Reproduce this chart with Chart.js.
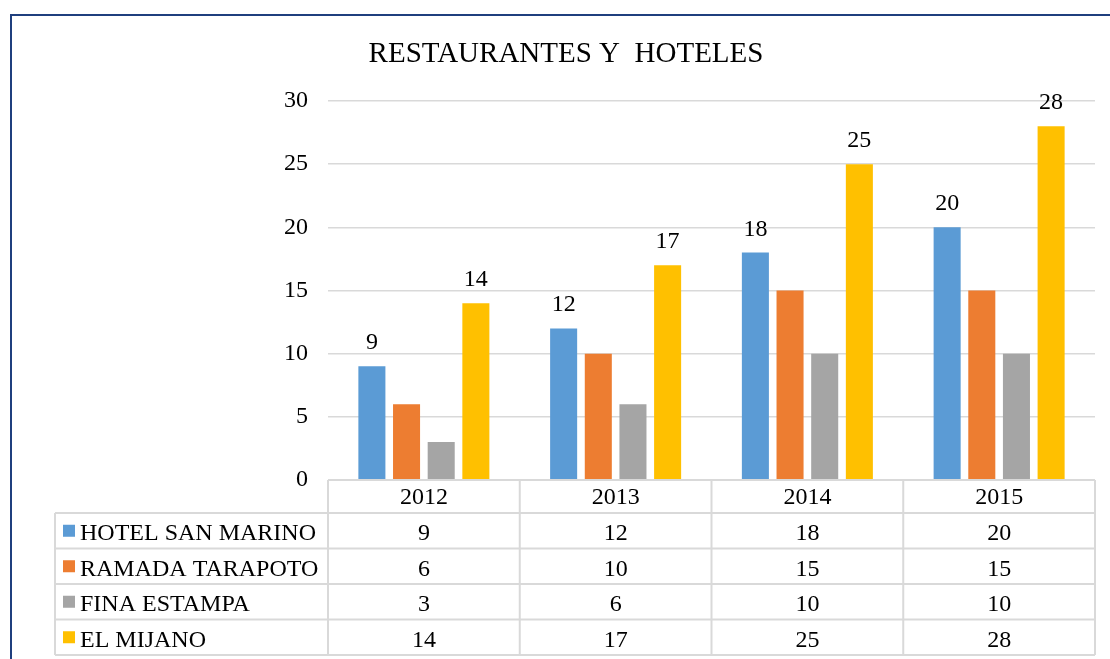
<!DOCTYPE html>
<html>
<head>
<meta charset="utf-8">
<script src="https://cdn.jsdelivr.net/npm/chart.js@4.4.1/dist/chart.umd.min.js"></script>
<style>
  html, body { margin: 0; padding: 0; background: #fff; }
</style>
</head>
<body>
<canvas id="grafico" width="1110" height="659"></canvas>
<script>
  // datos del gráfico
  const titulo = 'RESTAURANTES Y  HOTELES';
  const anios = ['2012', '2013', '2014', '2015'];
  const nombres = ['HOTEL SAN MARINO', 'RAMADA TARAPOTO', 'FINA ESTAMPA', 'EL MIJANO'];
  const sanMarino = [9, 12, 18, 20];
  const ramada = [6, 10, 15, 15];
  const finaEstampa = [3, 6, 10, 10];
  const mijano = [14, 17, 25, 28];
  const ticksY = [0, 5, 10, 15, 20, 25, 30];

  const colores = ['#5b9bd5', '#ed7d31', '#a5a5a5', '#ffc000'];
  const series = [sanMarino, ramada, finaEstampa, mijano];
  const conEtiqueta = [true, false, false, true];
  const fuente = '"Liberation Serif", "Times New Roman", serif';

  const filaCab = 33;   // alto fila de años
  const filaAlto = 35.5;

  const tablaPlugin = {
    id: 'tabla',
    afterDraw(chart) {
      const ctx = chart.ctx;
      const area = chart.chartArea;
      const x = chart.scales.x;
      const ancho = (area.right - area.left) / anios.length;
      ctx.save();

      // marco exterior
      ctx.strokeStyle = '#1f3f7e';
      ctx.lineWidth = 2;
      ctx.strokeRect(11, 15, 1300, 1000);

      // título
      ctx.fillStyle = '#000';
      ctx.font = '29px ' + fuente;
      ctx.textAlign = 'center';
      ctx.textBaseline = 'alphabetic';
      ctx.fillText(titulo, 566, 62);

      // etiquetas de datos
      ctx.font = '24px ' + fuente;
      series.forEach((s, i) => {
        if (!conEtiqueta[i]) return;
        const meta = chart.getDatasetMeta(i);
        meta.data.forEach((bar, j) => {
          ctx.fillText(String(s[j]), bar.x, bar.y - 17);
        });
      });

      // tabla de datos
      const top = area.bottom;
      const izq = 55;
      const filas = nombres.length;
      const fondo = top + filaCab + filaAlto * filas;
      ctx.strokeStyle = '#d9d9d9';
      ctx.lineWidth = 2;
      ctx.beginPath();
      // horizontales
      ctx.moveTo(area.left, top); ctx.lineTo(area.right, top);
      for (let r = 0; r <= filas; r++) {
        const yy = top + filaCab + filaAlto * r;
        ctx.moveTo(izq, yy); ctx.lineTo(area.right, yy);
      }
      // verticales
      ctx.moveTo(izq, top + filaCab); ctx.lineTo(izq, fondo);
      for (let c = 0; c <= anios.length; c++) {
        const xx = c < anios.length ? x.getPixelForValue(c) - ancho / 2 : x.getPixelForValue(c - 1) + ancho / 2;
        ctx.moveTo(xx, top); ctx.lineTo(xx, fondo);
      }
      ctx.stroke();

      ctx.fillStyle = '#000';
      ctx.textAlign = 'center';
      anios.forEach((a, c) => {
        ctx.fillText(a, x.getPixelForValue(c), top + 24);
      });
      series.forEach((s, r) => {
        const yy = top + filaCab + filaAlto * r;
        s.forEach((v, c) => {
          ctx.fillText(String(v), x.getPixelForValue(c), yy + 27);
        });
        ctx.fillStyle = colores[r];
        ctx.fillRect(63, yy + filaAlto / 2 - 6, 12, 12);
        ctx.fillStyle = '#000';
        ctx.textAlign = 'left';
        ctx.fillText(nombres[r], 80, yy + 27);
        ctx.textAlign = 'center';
      });

      ctx.restore();
    }
  };

  new Chart(document.getElementById('grafico').getContext('2d'), {
    type: 'bar',
    data: {
      labels: anios,
      datasets: series.map((s, i) => ({
        label: nombres[i],
        data: s,
        backgroundColor: colores[i],
        categoryPercentage: 0.723,
        barPercentage: 0.78
      }))
    },
    options: {
      responsive: false,
      animation: false,
      devicePixelRatio: 1,
      layout: { padding: { left: 0, right: 15, top: 101, bottom: 179 } },
      scales: {
        x: { display: false },
        y: {
          min: 0,
          max: 30,
          afterFit(scale) { scale.width = 328; },
          afterBuildTicks(scale) { scale.ticks = ticksY.map(v => ({ value: v })); },
          border: { display: false },
          grid: { color: '#d9d9d9', lineWidth: 1.5, drawTicks: false },
          ticks: { padding: 20, color: '#000', font: { family: fuente, size: 24 } }
        }
      },
      plugins: {
        legend: { display: false },
        title: { display: false },
        tooltip: { enabled: false }
      }
    },
    plugins: [tablaPlugin]
  });
</script>
</body>
</html>
